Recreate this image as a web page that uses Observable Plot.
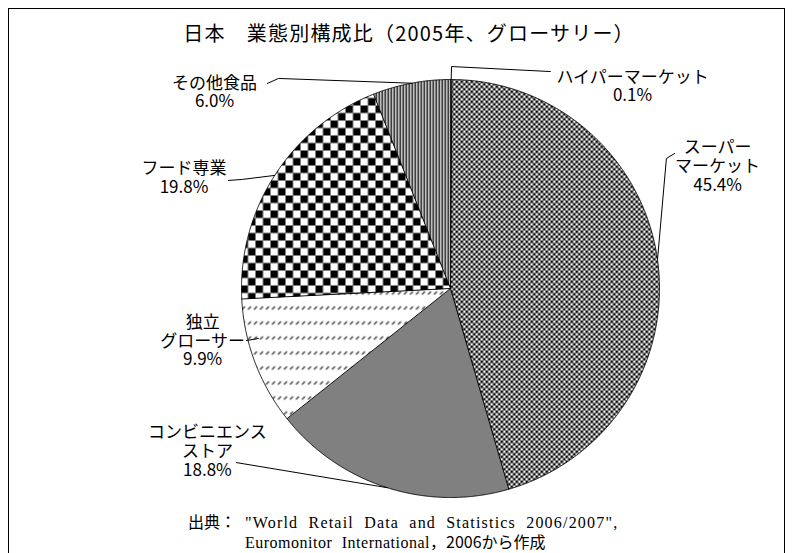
<!DOCTYPE html>
<html><head><meta charset="utf-8">
<script src="https://cdn.jsdelivr.net/npm/d3@7"></script>
<script src="https://cdn.jsdelivr.net/npm/@observablehq/plot@0.6"></script>
<style>
html,body{margin:0;padding:0;background:#fff;overflow:hidden;}
#wrap{position:relative;width:793px;height:553px;overflow:hidden;font-family:"Noto Sans CJK JP",sans-serif;color:#000;}
#frame{position:absolute;left:8px;top:8px;width:777px;height:600px;border:1px solid #000;box-sizing:border-box;}
#chart{position:absolute;left:0;top:0;}
#title{position:absolute;left:0;width:818px;top:18px;text-align:center;font-size:20px;letter-spacing:1.2px;line-height:30px;white-space:nowrap;}
#source{position:absolute;left:188px;top:512px;font-size:16px;line-height:19px;white-space:nowrap;display:flex;}
#source .head{display:inline-block;width:57px;}
#source .lat{font-family:"Liberation Serif",serif;font-size:16px;letter-spacing:1.2px;word-spacing:5px;}
#source .lat2{font-family:"Liberation Serif",serif;font-size:16px;letter-spacing:0.5px;word-spacing:5px;}
</style></head><body>
<div id="wrap">
  <div id="frame"></div>
  <div id="chart"></div>
  <div id="title">日本　業態別構成比（2005年、グローサリー）</div>
  <div id="source"><span class="head">出典：</span><span><span class="lat">"World Retail Data and Statistics 2006/2007",</span><br><span class="lat2">Euromonitor International</span>，2006から作成</span></div>
</div>
<script>
// ---- data ----
const categories = ["ハイパーマーケット", "スーパーマーケット", "コンビニエンスストア", "独立グローサー", "フード専業", "その他食品"];
const shares = [0.1, 45.4, 18.8, 9.9, 19.8, 6.0];
const labelLines = [["ハイパーマーケット"], ["スーパー", "マーケット"], ["コンビニエンス", "ストア"], ["独立", "グローサー"], ["フード専業"], ["その他食品"]];

// ---- styles / layout (pie units: radius = 1, y up) ----
const fills = ["#ffffff", "url(#pSuper)", "#808080", "url(#pIndep)", "url(#pFood)", "url(#pOther)"];
const labelPos = [[0.871, 0.969], [1.278, 0.586], [-1.163, -0.778], [-1.186, -0.249], [-1.275, 0.531], [-1.129, 0.940]];
const leaderFromEdge = [true, true, true, false, true, true];
const leaderBends = [
  [[0.005, 1.062], [0.478, 1.038]],
  [[1.033, 0.622], [1.072, 0.646]],
  [[-1.024, -0.833]],
  [[-0.976, -0.249], [-0.919, -0.239]],
  [[-0.995, 0.522], [-1.062, 0.517]],
  [[-0.823, 1.005], [-0.876, 0.981]]
];
const W = 793, H = 553, CX = 450, CY = 288, R = 209;

const total = d3.sum(shares);
let cum = 0;
const slices = categories.map((c, i) => {
  const a0 = cum / total * 2 * Math.PI;
  cum += shares[i];
  const a1 = cum / total * 2 * Math.PI;
  return {cat: c, a0, a1, mid: (a0 + a1) / 2, i};
});

const slicePts = [];
for (const s of slices) {
  slicePts.push({cat: s.cat, x: 0, y: 0, fill: fills[s.i]});
  const n = Math.max(2, Math.ceil((s.a1 - s.a0) / (Math.PI / 720)));
  for (let k = 0; k <= n; k++) {
    const a = s.a0 + (s.a1 - s.a0) * k / n;
    slicePts.push({cat: s.cat, x: Math.sin(a), y: Math.cos(a), fill: fills[s.i]});
  }
}

const leaderPts = [];
for (const s of slices) {
  if (leaderFromEdge[s.i]) leaderPts.push({cat: s.cat, x: Math.sin(s.mid), y: Math.cos(s.mid)});
  for (const [x, y] of leaderBends[s.i]) leaderPts.push({cat: s.cat, x, y});
}

const labels = slices.map(s => ({
  x: labelPos[s.i][0], y: labelPos[s.i][1],
  text: labelLines[s.i].join("\n") + "\n" + shares[s.i].toFixed(1) + "%"
}));

const chart = Plot.plot({
  width: W, height: H, margin: 0,
  x: {domain: [-CX / R, (W - CX) / R], axis: null},
  y: {domain: [-(H - CY) / R, CY / R], axis: null},
  color: {type: "identity"},
  style: {background: "transparent", overflow: "visible"},
  marks: [
    Plot.line(slicePts, {x: "x", y: "y", z: "cat", fill: "fill", stroke: "#000", strokeWidth: 0.9, curve: "linear-closed"}),
    Plot.line(leaderPts, {x: "x", y: "y", z: "cat", stroke: "#000", strokeWidth: 1}),
    Plot.text(labels, {x: "x", y: "y", text: "text", fontSize: 17, lineHeight: 1.1, fill: "#000",
      fontFamily: "'Noto Sans CJK JP', sans-serif", textAnchor: "middle"})
  ]
});

const defs = document.createElementNS("http://www.w3.org/2000/svg", "defs");
defs.innerHTML = `
<pattern id="pSuper" patternUnits="userSpaceOnUse" width="5" height="5">
  <rect width="5" height="5" fill="#fff"/><rect width="2.6" height="2.6" fill="#000"/><rect x="2.5" y="2.5" width="2.6" height="2.6" fill="#000"/>
</pattern>
<pattern id="pFood" patternUnits="userSpaceOnUse" width="15" height="15">
  <rect width="15" height="15" fill="#fff"/><rect width="7.5" height="7.5" fill="#000"/><rect x="7.5" y="7.5" width="7.5" height="7.5" fill="#000"/>
</pattern>
<pattern id="pOther" patternUnits="userSpaceOnUse" width="3" height="3">
  <rect width="3" height="3" fill="#fff"/><rect width="1.5" height="3" fill="#000"/>
</pattern>
<pattern id="pIndep" patternUnits="userSpaceOnUse" width="6" height="15">
  <rect width="6" height="15" fill="#fff"/><path d="M1.5,9 L4.5,6" stroke="#333" stroke-width="1.3"/>
</pattern>`;
chart.insertBefore(defs, chart.firstChild);
document.getElementById("chart").appendChild(chart);
</script>
</body></html>
